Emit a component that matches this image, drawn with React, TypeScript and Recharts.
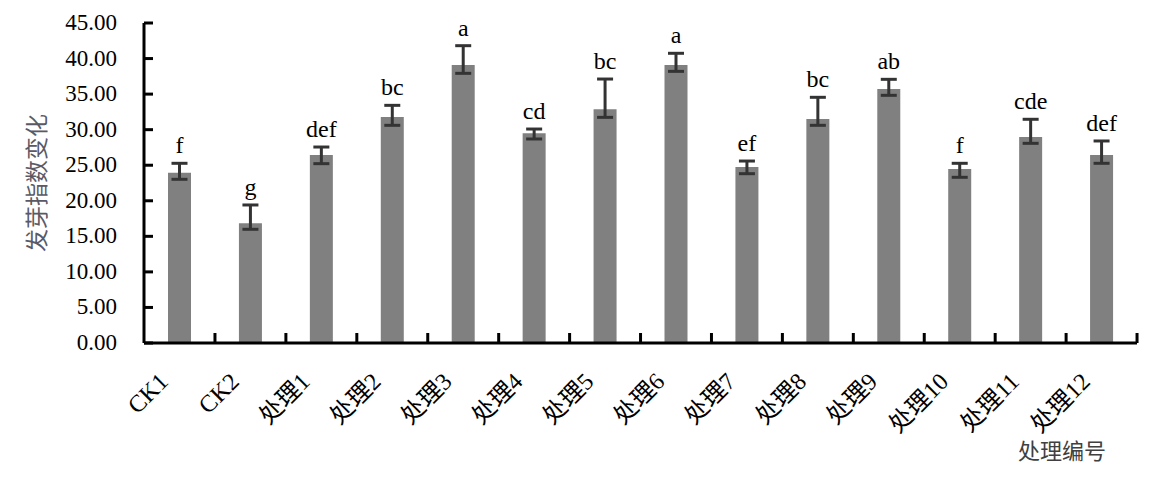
import React from 'react';
import { BarChart, Bar, XAxis, YAxis, ErrorBar, LabelList, Label } from 'recharts';

const categories = ['CK1', 'CK2', '处理1', '处理2', '处理3', '处理4', '处理5', '处理6', '处理7', '处理8', '处理9', '处理10', '处理11', '处理12'];
const means = [23.95, 16.83, 26.44, 31.78, 39.09, 29.49, 32.86, 39.09, 24.75, 31.5, 35.72, 24.47, 28.97, 26.44];
const errUp = [1.32, 2.58, 1.12, 1.64, 2.72, 0.6, 4.26, 1.65, 0.84, 3.05, 1.36, 0.8, 2.49, 1.97];
const errDown = [0.93, 0.84, 1.22, 1.17, 1.17, 0.8, 1.13, 0.89, 0.94, 0.89, 0.89, 1.17, 0.89, 1.17];
const letters = ['f', 'g', 'def', 'bc', 'a', 'cd', 'bc', 'a', 'ef', 'bc', 'ab', 'f', 'cde', 'def'];
const yTicks = [0, 5, 10, 15, 20, 25, 30, 35, 40, 45];

const data = categories.map((name, i) => ({
  name,
  value: means[i],
  err: [errDown[i], errUp[i]],
  letter: letters[i],
}));

const W = 1169;
const H = 481;
const margin = { top: 23, right: 32, left: 0, bottom: 136 };
const yAxisWidth = 144;
const band = (W - margin.left - margin.right - yAxisWidth) / categories.length;
const FONT = 'Liberation Serif, Times New Roman, DejaVu Serif, serif';
const FONT_CJK = 'Liberation Serif, Times New Roman, Noto Sans CJK SC, serif';

const XTick = (props: any) => {
  const x = Number(props.x);
  const y = Number(props.y);
  return (
    <text
      transform={`translate(${x - 10},${y + 40}) rotate(-45)`}
      textAnchor="end"
      fill="#000"
      style={{ fontSize: 24, fontFamily: FONT_CJK }}
    >
      {props.payload.value}
    </text>
  );
};

const YTick = (props: any) => {
  const x = Number(props.x);
  const y = Number(props.y);
  return (
    <g>
      <line x1={x} y1={y} x2={x + 9} y2={y} stroke="#000" strokeWidth={3} />
      <text x={x - 27} y={y + 7} textAnchor="end" fill="#000" style={{ fontSize: 23, fontFamily: FONT }}>
        {Number(props.payload.value).toFixed(2)}
      </text>
    </g>
  );
};

// letter above the upper error cap, plus the inward tick on the band's right boundary
const LetterLabel = (props: any) => {
  const { value, index } = props;
  const x = Number(props.x);
  const y = Number(props.y);
  const w = Number(props.width);
  const h = Number(props.height);
  const perUnit = h / means[index];
  const capY = y - errUp[index] * perUnit;
  const cx = x + w / 2;
  const base = y + h;
  return (
    <g>
      <path d={`M${cx + band / 2},${base}V${base - 10}`} stroke="#000" strokeWidth={3} fill="none" />
      <text x={cx} y={capY - 10} textAnchor="middle" fill="#000" style={{ fontSize: 24, fontFamily: FONT }}>
        {value}
      </text>
    </g>
  );
};

export default function App() {
  return (
    <div style={{ position: 'absolute', left: 0, top: 0, background: '#fff' }}>
      <BarChart width={W} height={H} data={data} margin={margin} barCategoryGap={0}>
        <XAxis
          dataKey="name"
          height={2}
          axisLine={{ stroke: '#000', strokeWidth: 3 }}
          tickLine={false}
          tickSize={0}
          tickMargin={0}
          interval={0}
          tick={<XTick />}
        >
          <Label
            content={(p: any) => (
              <text
                x={p.viewBox.x + p.viewBox.width - 75}
                y={p.viewBox.y + 116}
                textAnchor="middle"
                fill="#404040"
                style={{ fontSize: 22, fontFamily: FONT_CJK }}
              >
                处理编号
              </text>
            )}
          />
        </XAxis>
        <YAxis
          width={yAxisWidth}
          domain={[0, 45]}
          ticks={yTicks}
          axisLine={{ stroke: '#000', strokeWidth: 3 }}
          tickLine={false}
          tickSize={0}
          tickMargin={0}
          interval={0}
          tick={<YTick />}
        >
          <Label
            content={(p: any) => {
              const cx = p.viewBox.x + 37;
              const cy = p.viewBox.y + p.viewBox.height / 2;
              return (
                <text
                  transform={`translate(${cx},${cy}) rotate(-90)`}
                  textAnchor="middle"
                  dominantBaseline="central"
                  fill="#5a5a66"
                  style={{ fontSize: 23, fontFamily: FONT_CJK }}
                >
                  发芽指数变化
                </text>
              );
            }}
          />
        </YAxis>
        <Bar dataKey="value" fill="#808080" barSize={23} isAnimationActive={false}>
          <ErrorBar dataKey="err" width={8} stroke="#333333" strokeWidth={3} direction="y" />
          <LabelList dataKey="letter" content={<LetterLabel />} />
        </Bar>
      </BarChart>
    </div>
  );
}
